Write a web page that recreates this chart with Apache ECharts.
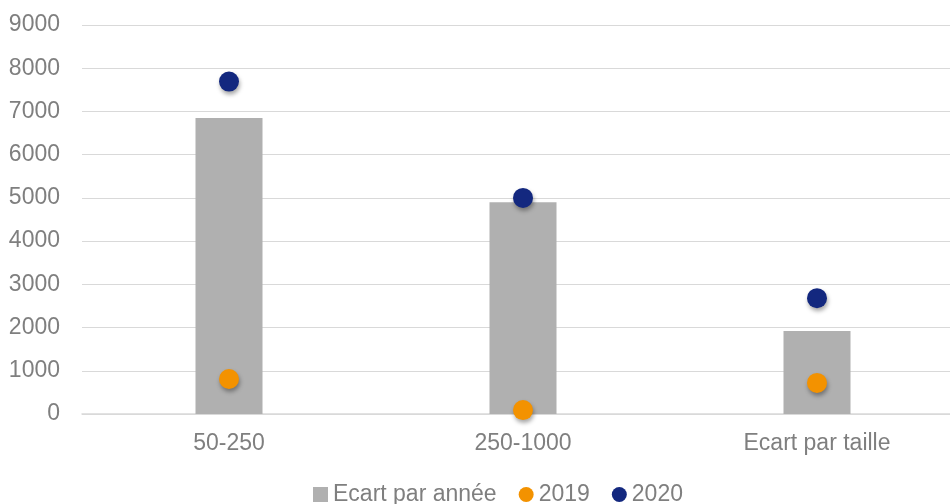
<!DOCTYPE html>
<html>
<head>
<meta charset="utf-8">
<script src="https://cdn.jsdelivr.net/npm/echarts@6/dist/echarts.min.js"></script>
<style>
html, body { margin: 0; padding: 0; background: #fff; }
#chart { width: 950px; height: 504px; }
</style>
</head>
<body>
<div id="chart"></div>
<script>
// tailles d'entreprise
var categories = ['50-250', '250-1000', 'Ecart par taille'];
var ecartAnnee = [6850, 4900, 1920];
var val2019 = [810, 90, 720];
var val2020 = [7690, 5000, 2680];

var grey = '#b0b0b0';
var orange = '#f39200';
var navy = '#13287f';
var txt = '#7f7f7f';

var dotShadow = {
	opacity: 1,
	shadowBlur: 4,
	shadowOffsetX: 1,
	shadowOffsetY: 3,
	shadowColor: 'rgba(0,0,0,0.35)'
};

var chart = echarts.init(document.getElementById('chart'));

chart.setOption({
	animation: false,
	textStyle: { fontFamily: 'Liberation Sans, Arial, sans-serif' },
	grid: { left: 82, top: 25, width: 882, height: 389, outerBoundsMode: 'none', containLabel: false },
	legend: {
		left: 308,
		top: 478,
		itemWidth: 15,
		itemHeight: 15,
		itemGap: 22,
		textStyle: { color: txt, fontSize: 23 },
		data: [
			{ name: 'Ecart par année', icon: 'rect' },
			{ name: '2019', icon: 'circle' },
			{ name: '2020', icon: 'circle' }
		]
	},
	xAxis: {
		type: 'category',
		data: categories,
		axisLine: { lineStyle: { color: '#d9d9d9', width: 1.5 } },
		axisTick: { show: false },
		axisLabel: { color: txt, fontSize: 23, margin: 18 }
	},
	yAxis: {
		type: 'value',
		min: 0,
		max: 9000,
		interval: 1000,
		axisLine: { show: false },
		axisTick: { show: false },
		axisLabel: { color: txt, fontSize: 23, margin: 22, formatter: function(v) { return String(v); } },
		splitLine: { lineStyle: { color: '#d9d9d9', width: 1.2 } }
	},
	series: [
		{
			name: 'Ecart par année',
			type: 'bar',
			data: ecartAnnee,
			barWidth: 67,
			itemStyle: { color: grey }
		},
		{
			name: '2019',
			type: 'scatter',
			data: val2019,
			symbolSize: 20,
			itemStyle: Object.assign({ color: orange }, dotShadow)
		},
		{
			name: '2020',
			type: 'scatter',
			data: val2020,
			symbolSize: 20,
			itemStyle: Object.assign({ color: navy }, dotShadow)
		}
	]
});
</script>
</body>
</html>
